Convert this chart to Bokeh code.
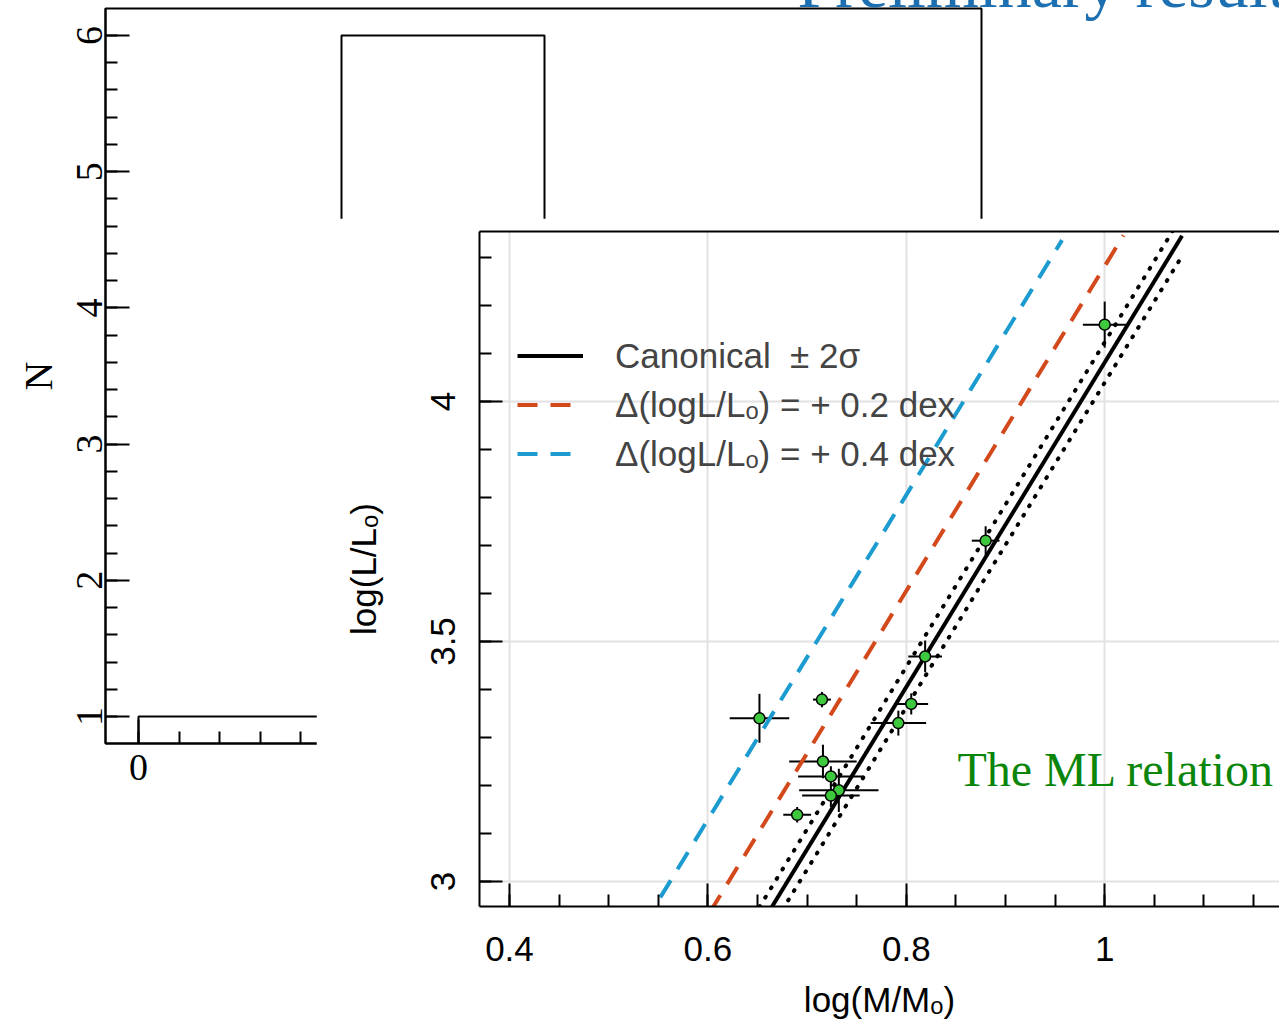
from bokeh.plotting import figure
from bokeh.models import (Range1d, SingleIntervalTicker, FixedTicker, CustomJSTickFormatter,
                          Label, Legend, LegendItem, LinearAxis)
from bokeh.embed import file_html
from bokeh.resources import INLINE

# ---------------- data ----------------
# background histogram (N per bin)
hist_left = [0.0, 0.5, 1.0]
hist_right = [0.5, 1.0, 1.5]
hist_count = [1, 6, 4]

# inset: mass-luminosity points
logM = [1.000, 0.880, 0.819, 0.805, 0.792, 0.652, 0.715, 0.716, 0.724, 0.732, 0.724, 0.690]
logL = [4.160, 3.710, 3.469, 3.370, 3.330, 3.340, 3.379, 3.250, 3.219, 3.190, 3.179, 3.139]
err_logM = [0.022, 0.014, 0.017, 0.017, 0.028, 0.030, 0.009, 0.034, 0.033, 0.040, 0.029, 0.014]
err_logL = [0.048, 0.030, 0.033, 0.022, 0.026, 0.051, 0.016, 0.035, 0.021, 0.045, 0.024, 0.016]

# relations (end points)
canon_M = [0.60, 1.078]
canon_L = [2.729, 4.345]
minus2s_L = [2.687, 4.303]
plus2s_L = [2.771, 4.387]
d02_M = [0.55, 1.019]
d02_L = [2.760, 4.346]
d04_M = [0.50, 0.957]
d04_L = [2.791, 4.336]

legend_labels = ["Canonical  \u00b1 2\u03c3",
                 "\u0394(logL/L\u2092) = + 0.2 dex",
                 "\u0394(logL/L\u2092) = + 0.4 dex"]

SERIF = "Liberation Serif"
SANS = "Liberation Sans"
fmt = CustomJSTickFormatter(code="return String(Number(tick.toPrecision(6)))")

# ---------------- background histogram ----------------
p1 = figure(width=1279, height=1027, x_range=Range1d(-0.0813, 2.0764), y_range=Range1d(0.802, 6.198),
            output_backend="svg", toolbar_location=None,
            min_border_left=105, min_border_right=298, min_border_top=8, min_border_bottom=284,
            background_fill_color="white", border_fill_color="white",
            outline_line_color="black", outline_line_width=2,
            styles={"position": "absolute", "left": "0px", "top": "0px"})
p1.grid.visible = False
p1.quad(left=hist_left, right=hist_right, bottom=[0] * len(hist_count), top=hist_count,
        fill_color=None, line_color="black", line_width=2)

for ax in (p1.xaxis[0], p1.yaxis[0]):
    ax.axis_line_width = 2
    ax.major_tick_line_width = 2
    ax.minor_tick_line_width = 2
    ax.major_tick_in = 24
    ax.major_tick_out = 0
    ax.minor_tick_in = 12
    ax.minor_tick_out = 0
    ax.major_label_text_font = SERIF
    ax.major_label_text_font_size = "38px"
    ax.major_label_text_color = "black"
    ax.axis_label_text_font = SERIF
    ax.axis_label_text_font_style = "normal"
    ax.axis_label_text_font_size = "40px"
    ax.axis_label_text_color = "black"
    ax.formatter = fmt
p1.yaxis[0].ticker = SingleIntervalTicker(interval=1, num_minor_ticks=5)
p1.xaxis[0].ticker = SingleIntervalTicker(interval=0.5, num_minor_ticks=5)
p1.yaxis[0].major_label_orientation = "vertical"
p1.yaxis[0].major_label_standoff = 3
p1.yaxis[0].axis_label = "N"
p1.yaxis[0].axis_label_standoff = 14
p1.xaxis[0].major_label_standoff = 11

# ---------------- slide title (transparent overlay figure) ----------------
p0 = figure(width=600, height=100, x_range=Range1d(0, 600), y_range=Range1d(0, 100),
            output_backend="svg", toolbar_location=None,
            min_border_left=0, min_border_right=0, min_border_top=0, min_border_bottom=0,
            background_fill_alpha=0, border_fill_alpha=0, outline_line_color=None,
            styles={"position": "absolute", "left": "679px", "top": "-60px"})
p0.axis.visible = False
p0.grid.visible = False
p0.add_layout(Label(x=118, y=57, text="Preliminary results", text_font=SERIF,
                    text_font_size="68px", text_color="#1c6fb0", text_baseline="middle"))

# ---------------- inset: ML relation ----------------
p2 = figure(width=963, height=809, x_range=Range1d(0.3698, 1.1762), y_range=Range1d(2.948, 4.354),
            output_backend="svg", toolbar_location=None,
            min_border_left=163, min_border_right=0, min_border_top=13, min_border_bottom=121,
            background_fill_color="white", border_fill_color="white", outline_line_color=None,
            styles={"position": "absolute", "left": "316px", "top": "218px"})

p2.grid.grid_line_color = "#e2e2e2"
p2.grid.grid_line_width = 2

p2.xaxis[0].ticker = SingleIntervalTicker(interval=0.2, num_minor_ticks=4)
p2.yaxis[0].ticker = SingleIntervalTicker(interval=0.5, num_minor_ticks=5)
for ax in (p2.xaxis[0], p2.yaxis[0]):
    ax.axis_line_width = 2
    ax.major_tick_line_width = 2
    ax.minor_tick_line_width = 2
    ax.major_tick_in = 23
    ax.major_tick_out = 0
    ax.minor_tick_in = 12
    ax.minor_tick_out = 0
    ax.major_label_text_font = SANS
    ax.major_label_text_font_size = "35px"
    ax.major_label_text_color = "black"
    ax.axis_label_text_font = SANS
    ax.axis_label_text_font_style = "normal"
    ax.axis_label_text_font_size = "35px"
    ax.axis_label_text_color = "black"
    ax.formatter = fmt
p2.xaxis[0].axis_label = "log(M/M\u2092)"
p2.yaxis[0].axis_label = "log(L/L\u2092)"
p2.yaxis[0].major_label_orientation = "vertical"
p2.yaxis[0].major_label_standoff = 24
p2.yaxis[0].axis_label_standoff = 46
p2.xaxis[0].major_label_standoff = 30
p2.xaxis[0].axis_label_standoff = 16

top_ax = LinearAxis(ticker=FixedTicker(ticks=[]), axis_line_width=2, major_tick_in=0, major_tick_out=0,
                    minor_tick_in=0, minor_tick_out=0, major_label_text_font_size="0px")
p2.add_layout(top_ax, "above")

# error bars
p2.segment(x0=[m - e for m, e in zip(logM, err_logM)], x1=[m + e for m, e in zip(logM, err_logM)],
           y0=logL, y1=logL, line_color="black", line_width=2)
p2.segment(x0=logM, x1=logM, y0=[l - e for l, e in zip(logL, err_logL)],
           y1=[l + e for l, e in zip(logL, err_logL)], line_color="black", line_width=2)

r_d04 = p2.line(d04_M, d04_L, line_color="#1b9bcf", line_width=4, line_dash="20 13")
r_d02 = p2.line(d02_M, d02_L, line_color="#d4491c", line_width=4, line_dash="20 13")
p2.line(canon_M, minus2s_L, line_color="black", line_width=4, line_dash="1 10", line_cap="round")
p2.line(canon_M, plus2s_L, line_color="black", line_width=4, line_dash="1 10", line_cap="round")
r_can = p2.line(canon_M, canon_L, line_color="black", line_width=4)

p2.scatter(logM, logL, size=11, fill_color="#3ec83e", line_color="black", line_width=1.5)

legend = Legend(items=[LegendItem(label=legend_labels[0], renderers=[r_can]),
                       LegendItem(label=legend_labels[1], renderers=[r_d02]),
                       LegendItem(label=legend_labels[2], renderers=[r_d04])],
                location=(38, 428), background_fill_alpha=0, border_line_color=None,
                padding=0, margin=0, spacing=0, glyph_width=66, glyph_height=49, label_height=49,
                label_standoff=32, label_text_font=SANS, label_text_font_size="35px")
p2.add_layout(legend)

p2.add_layout(Label(x=0.8516, y=3.234, text="The ML relation", text_font=SERIF,
                    text_font_size="48px", text_color="#0b860b", text_baseline="middle"))

open("out.html", "w").write(file_html([p1, p0, p2], INLINE))
